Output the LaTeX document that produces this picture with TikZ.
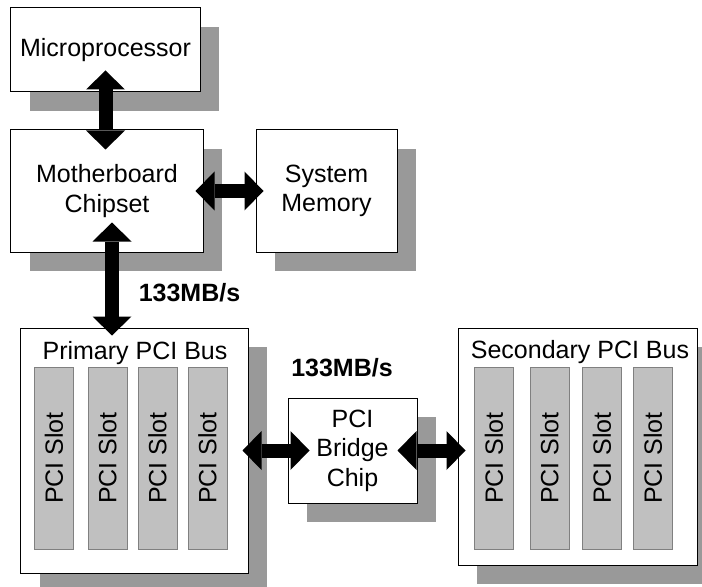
\documentclass[tikz,border=0pt]{standalone}
\usepackage{fontspec}
\setmainfont{Liberation Sans}
\usetikzlibrary{arrows.meta, positioning, shadows}

\definecolor{shadowgray}{HTML}{999999}
\definecolor{slotgray}{HTML}{C0C0C0}
\definecolor{slotline}{HTML}{808080}

\begin{document}
\begin{tikzpicture}[
    x=1bp, y=-1bp,
    every node/.style={font=\fontsize{25bp}{29.5bp}\selectfont},
    unit/.style={rectangle, draw=black, line width=1bp, fill=white, align=center,
                 inner sep=0pt,
                 drop shadow={shadow xshift=19bp, shadow yshift=-19bp,
                              fill=shadowgray, opacity=1}},
    slot/.style={rectangle, draw=slotline, fill=slotgray, line width=1bp,
                 minimum width=182bp, minimum height=39bp, inner sep=0pt, rotate=90},
    bus/.style={line width=14bp,
                {Triangle[width=39bp,length=19bp,line width=0pt]}-{Triangle[width=39bp,length=19bp,line width=0pt]}},
    rate/.style={font=\bfseries\fontsize{25bp}{29.5bp}\selectfont}
]
\useasboundingbox (0,0) rectangle (702,587);
\clip (0,0) rectangle (702,587);

\node[unit, minimum width=189bp, minimum height=84bp] (micro) at (105.5,50) {Microprocessor};
\node[unit, minimum width=192bp, minimum height=122bp] (chipset) at (107,191) {Motherboard\\Chipset};
\node[unit, minimum width=141bp, minimum height=122bp] (memory) at (326.5,191) {System\\Memory};
\node[unit, minimum width=227bp, minimum height=245bp] (primary) at (134.5,450.5) {};
\node[unit, minimum width=129bp, minimum height=105bp] (bridge) at (352.5,450.5) {PCI\\Bridge\\Chip};
\node[unit, minimum width=239bp, minimum height=237bp] (secondary) at (577.5,446.5) {};

% bus titles and the slots on each bus
\node (primtitle) at (135,353) {Primary PCI Bus};
\node (sectitle) at (580,352) {Secondary PCI Bus};
\foreach \x [count=\i] in {54,107.5,157.5,207.5}
    \node[slot] (pslot\i) at (\x,458) {PCI Slot};
\foreach \x [count=\i] in {494,549.5,602,653}
    \node[slot] (sslot\i) at (\x,458) {PCI Slot};

\node[rate] (rateup) at (189.5,293) {133MB/s};
\node[rate] (ratebridge) at (342,368) {133MB/s};

% data paths
\draw[bus, shorten <=-22bp, shorten >=-20bp] (micro.south) -- (micro.south |- chipset.north);
\draw[bus, shorten <=-8bp, shorten >=-8bp] (chipset.east) -- (memory.west);
\draw[bus, shorten <=-30bp, shorten >=-8bp]
    ([xshift=5bp]chipset.south) -- ([xshift=5bp]chipset.south |- primary.north);
\draw[bus, shorten <=-6bp, shorten >=-22bp] (primary.east) -- (bridge.west);
\draw[bus, shorten <=-20bp, shorten >=-8bp] (bridge.east) -- (bridge.east -| secondary.west);
\end{tikzpicture}
\end{document}
